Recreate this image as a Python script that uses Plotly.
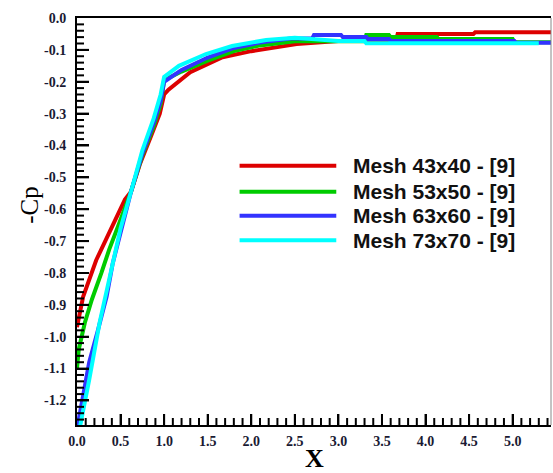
import plotly.graph_objects as go

# ---- data ----
names = ["Mesh 43x40 - [9]", "Mesh 53x50 - [9]", "Mesh 63x60 - [9]", "Mesh 73x70 - [9]"]
colors = ["#dd0000", "#00cc00", "#3333ff", "#00ffff"]

x_red = [0.0, 0.07, 0.22, 0.41, 0.55, 0.62, 0.72, 0.85, 0.95, 1.0, 1.05, 1.3, 1.67, 2.0, 2.33, 2.52, 2.8, 3.0, 3.66, 3.68, 4.55, 4.57, 5.44]
y_red = [-0.97, -0.875, -0.76, -0.65, -0.57, -0.545, -0.46, -0.37, -0.30, -0.24, -0.225, -0.17, -0.123, -0.104, -0.09, -0.082, -0.076, -0.072, -0.072, -0.05, -0.05, -0.045, -0.045]

x_green = [0.0, 0.02, 0.09, 0.17, 0.28, 0.37, 0.49, 0.58, 0.62, 0.75, 0.88, 0.96, 1.0, 1.2, 1.5, 1.8, 2.1, 2.5, 3.3, 3.32, 3.58, 3.6, 4.13, 4.15, 5.0, 5.02, 5.44]
y_green = [-1.10, -1.04, -0.956, -0.884, -0.80, -0.726, -0.64, -0.57, -0.545, -0.43, -0.34, -0.27, -0.195, -0.168, -0.134, -0.104, -0.086, -0.073, -0.073, -0.053, -0.053, -0.06, -0.06, -0.066, -0.066, -0.076, -0.076]

x_blue = [0.0, 0.09, 0.14, 0.24, 0.34, 0.41, 0.51, 0.62, 0.75, 0.88, 0.96, 1.0, 1.2, 1.5, 1.8, 2.1, 2.45, 2.7, 2.72, 3.03, 3.05, 3.32, 3.34, 3.58, 3.6, 5.02, 5.04, 5.44]
y_blue = [-1.29, -1.157, -1.08, -0.98, -0.874, -0.77, -0.66, -0.545, -0.425, -0.33, -0.26, -0.20, -0.163, -0.124, -0.094, -0.077, -0.064, -0.064, -0.053, -0.053, -0.06, -0.06, -0.066, -0.066, -0.072, -0.072, -0.078, -0.078]

x_cyan = [0.0, 0.07, 0.14, 0.26, 0.37, 0.5, 0.62, 0.75, 0.88, 0.96, 1.0, 1.17, 1.48, 1.78, 2.17, 2.5, 3.0, 3.3, 3.32, 5.3]
y_cyan = [-1.33, -1.24, -1.135, -0.955, -0.82, -0.66, -0.545, -0.415, -0.315, -0.24, -0.185, -0.15, -0.113, -0.088, -0.069, -0.062, -0.072, -0.072, -0.079, -0.079]

xs = [x_red, x_green, x_blue, x_cyan]
ys = [y_red, y_green, y_blue, y_cyan]

x_tickvals = [0.0, 0.5, 1.0, 1.5, 2.0, 2.5, 3.0, 3.5, 4.0, 4.5, 5.0]
x_ticktext = ["0.0", "0.5", "1.0", "1.5", "2.0", "2.5", "3.0", "3.5", "4.0", "4.5", "5.0"]
y_tickvals = [0.0, -0.1, -0.2, -0.3, -0.4, -0.5, -0.6, -0.7, -0.8, -0.9, -1.0, -1.1, -1.2]
y_ticktext = ["0.0", "-0.1", "-0.2", "-0.3", "-0.4", "-0.5", "-0.6", "-0.7", "-0.8", "-0.9", "-1.0", "-1.1", "-1.2"]

X_RANGE = [0, 5.44]
Y_RANGE = [-1.277, 0.0]
W, H = 553, 473
ML, MR, MT, MB = 77, 2, 18, 48

# minor tick positions (every 0.1 on x, every 0.02 on y)
x_minor = [round(i * 0.1, 2) for i in range(1, 55)]
y_minor = [round(-i * 0.02, 2) for i in range(1, 64)]

fig = go.Figure()
for xv, yv, nm, c in zip(xs, ys, names, colors):
    fig.add_trace(go.Scatter(x=xv, y=yv, mode="lines", name=nm,
                             line=dict(color=c, width=4), showlegend=False))

# inside tick marks as paper-referenced shapes (positions mapped through the axis ranges)
PW, PH = W - ML - MR, H - MT - MB
for v in x_minor:
    ln = 11 if any(abs(v - t) < 1e-9 for t in x_tickvals) else 7
    px = (v - X_RANGE[0]) / (X_RANGE[1] - X_RANGE[0])
    fig.add_shape(type="line", xref="paper", yref="paper", x0=px, x1=px, y0=0, y1=ln / PH,
                  line=dict(color="black", width=2))
for v in y_minor:
    ln = 12 if any(abs(v - t) < 1e-9 for t in y_tickvals) else 7
    py = (v - Y_RANGE[0]) / (Y_RANGE[1] - Y_RANGE[0])
    fig.add_shape(type="line", xref="paper", yref="paper", x0=0, x1=ln / PW, y0=py, y1=py,
                  line=dict(color="black", width=2))

# manual legend (long line samples like the reference)
leg_y = [0.637, 0.573, 0.514, 0.454]
for nm, c, ly in zip(names, colors, leg_y):
    fig.add_shape(type="line", xref="paper", yref="paper",
                  x0=0.343, x1=0.547, y0=ly, y1=ly,
                  line=dict(color=c, width=4))
    fig.add_annotation(xref="paper", yref="paper", x=0.578, y=ly,
                       text=nm, showarrow=False, xanchor="left", yanchor="middle",
                       font=dict(family="Liberation Sans", size=21, color="#111111", weight="bold"))

# right border (thin grey)
fig.add_shape(type="line", xref="paper", yref="paper", x0=1, x1=1, y0=0, y1=1,
              line=dict(color="#888888", width=1))

# axis titles placed like the reference
fig.add_annotation(xref="paper", yref="paper", x=-0.1, y=0.54, text="-Cp",
                   textangle=-90, showarrow=False, xanchor="center", yanchor="middle",
                   font=dict(family="Liberation Serif", size=25, color="black"))
fig.add_annotation(xref="paper", yref="paper", x=0.5, y=-0.083, text="X",
                   showarrow=False, xanchor="center", yanchor="middle",
                   font=dict(family="Liberation Serif", size=26, color="black", weight="bold"))

tickfont = dict(family="Liberation Serif", size=14, color="#1a1a33", weight="bold")

fig.update_layout(
    width=W, height=H,
    margin=dict(l=ML, r=MR, t=MT, b=MB),
    paper_bgcolor="white", plot_bgcolor="white",
    xaxis=dict(range=X_RANGE, showgrid=False, zeroline=False, automargin=False,
               showline=True, linecolor="black", linewidth=2, mirror=True,
               ticks="inside", ticklen=11, tickwidth=2, tickcolor="black",
               tickvals=x_tickvals, ticktext=x_ticktext, tickfont=tickfont,
               ticklabelstandoff=2),
    yaxis=dict(range=Y_RANGE, showgrid=False, zeroline=False, automargin=False,
               showline=True, linecolor="black", linewidth=2,
               ticks="inside", ticklen=12, tickwidth=2, tickcolor="black",
               tickvals=y_tickvals, ticktext=y_ticktext, tickfont=tickfont,
               ticklabelstandoff=6),
)

fig.write_html("out.html")
